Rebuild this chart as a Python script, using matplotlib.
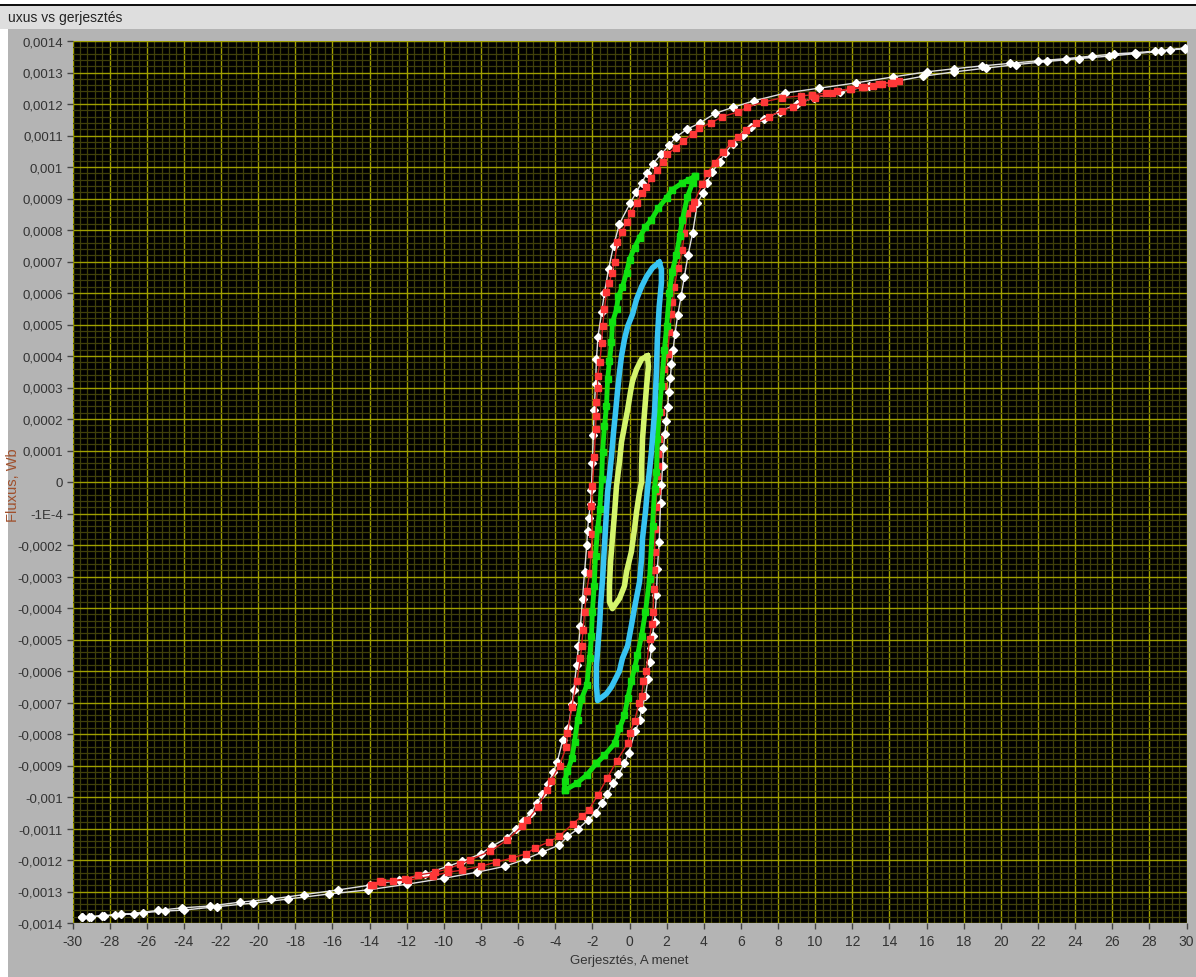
import numpy as np
import matplotlib
matplotlib.use('Agg')
import matplotlib.pyplot as plt
from matplotlib.patches import Rectangle
from matplotlib.ticker import MultipleLocator
from matplotlib import font_manager

# flux values are in units of 1e-4 Wb

# white loop (outer, largest excitation)
white_down_x = [29.9, 29.1, 28.3, 27.2, 26.1, 24.9, 23.5, 22.0, 20.5, 19.0,
                17.5, 16.0, 14.2, 12.2, 10.2, 8.4, 6.7, 5.6, 4.6, 3.8,
                3.1, 2.5, 2.15, 1.7, 1.25, 0.95, 0.65, 0.37, 0.05, -0.54,
                -0.86, -1.13, -1.35, -1.5, -1.7, -1.78, -1.83, -1.9, -1.95, -2.0,
                -2.05, -2.1, -2.2, -2.26, -2.3, -2.42, -2.53, -2.64, -2.75, -2.85,
                -3.0, -3.1, -3.3, -3.6, -3.9, -4.1, -4.4, -4.7, -5.0, -5.3,
                -5.76, -6.1, -6.6, -7.4, -8.0, -9.0, -9.8, -11.0, -12.4, -14.0,
                -15.7, -17.55, -19.3, -21.0, -22.6, -24.1, -25.4, -26.7, -27.7, -28.4,
                -29.1, -29.5]
white_down_y = [13.78, 13.72, 13.67, 13.63, 13.59, 13.52, 13.44, 13.37, 13.29, 13.21,
                13.12, 13.02, 12.86, 12.67, 12.5, 12.35, 12.1, 11.9, 11.7, 11.4,
                11.2, 10.95, 10.7, 10.4, 10.1, 9.8, 9.5, 9.2, 8.87, 8.2,
                7.5, 6.75, 6.0, 5.4, 4.6, 3.9, 3.1, 2.3, 1.5, 0.6,
                -0.25, -0.7, -1.14, -1.55, -2.0, -2.85, -3.7, -4.56, -5.2, -5.8,
                -6.6, -7.06, -7.8, -8.2, -8.9, -9.2, -9.6, -9.9, -10.2, -10.5,
                -10.77, -11.0, -11.3, -11.56, -11.8, -12.04, -12.2, -12.45, -12.64, -12.8,
                -12.95, -13.1, -13.24, -13.34, -13.46, -13.52, -13.6, -13.7, -13.74, -13.78,
                -13.8, -13.8]
white_up_x = [-29.5, -29.0, -28.3, -27.4, -26.2, -25.0, -24.0, -22.2, -20.3, -18.4,
              -16.2, -14.1, -12.0, -10.0, -8.24, -6.7, -5.6, -4.7, -3.8, -3.34,
              -2.75, -2.26, -1.83, -1.5, -1.2, -0.9, -0.6, -0.27, -0.05, 0.32,
              0.54, 0.65, 0.86, 1.0, 1.1, 1.18, 1.24, 1.35, 1.45, 1.5,
              1.6, 1.67, 1.72, 1.78, 1.83, 1.9, 1.97, 2.05, 2.12, 2.2,
              2.26, 2.35, 2.45, 2.6, 2.78, 2.95, 3.15, 3.4, 3.66, 3.98,
              4.15, 4.47, 4.85, 5.17, 5.55, 6.1, 6.57, 7.27, 8.08, 9.0,
              9.96, 11.36, 12.92, 14.16, 15.8, 17.5, 19.2, 20.8, 22.5, 24.2,
              25.8, 27.3, 28.6, 29.9]
white_up_y = [-13.82, -13.8, -13.77, -13.73, -13.67, -13.62, -13.59, -13.48, -13.37, -13.24,
              -13.08, -12.95, -12.77, -12.58, -12.39, -12.2, -11.97, -11.75, -11.53, -11.25,
              -11.0, -10.74, -10.5, -10.2, -9.9, -9.57, -9.28, -8.93, -8.6, -7.9,
              -7.57, -7.2, -6.78, -6.24, -5.7, -5.26, -4.88, -4.43, -3.6, -2.76,
              -1.9, -0.67, -0.1, 0.5, 1.08, 1.52, 1.93, 2.37, 2.85, 3.3,
              3.75, 4.2, 4.7, 5.3, 5.9, 6.5, 7.2, 7.9, 8.87, 9.19,
              9.5, 9.85, 10.17, 10.45, 10.74, 11.02, 11.28, 11.53, 11.75, 12.0,
              12.2, 12.39, 12.57, 12.7, 12.88, 13.02, 13.14, 13.25, 13.35, 13.44,
              13.52, 13.6, 13.68, 13.76]

# red loop
red_down_x = [14.2, 13.6, 13.1, 12.5, 11.95, 11.15, 10.6, 9.85, 9.26, 8.24,
              7.27, 6.35, 5.87, 5.0, 4.4, 3.77, 3.4, 2.9, 2.48, 2.0,
              1.78, 1.5, 1.18, 0.9, 0.7, 0.38, 0.1, -0.16, -0.38, -0.65,
              -0.8, -0.95, -1.08, -1.24, -1.35, -1.45, -1.5, -1.6, -1.72, -1.72,
              -1.78, -1.8, -1.83, -1.9, -2.0, -2.05, -2.0, -2.08, -2.15, -2.3,
              -2.42, -2.5, -2.58, -2.64, -2.85, -3.1, -3.34, -3.4, -3.77, -4.25,
              -4.47, -4.95, -5.5, -5.8, -6.6, -7.5, -8.6, -9.15, -9.8, -10.5,
              -11.4, -12.1, -12.76, -13.35, -13.8]
red_down_y = [12.67, 12.64, 12.57, 12.54, 12.48, 12.42, 12.35, 12.29, 12.26, 12.2,
              12.07, 11.9, 11.75, 11.6, 11.4, 11.24, 11.05, 10.83, 10.6, 10.4,
              10.17, 9.9, 9.66, 9.37, 9.19, 8.87, 8.55, 8.24, 7.95, 7.63,
              7.0, 6.65, 6.33, 6.02, 5.5, 4.94, 4.4, 3.8, 3.36, 3.0,
              2.53, 2.1, 1.68, 0.79, -0.13, -0.76, -1.65, -2.3, -2.88, -3.45,
              -4.12, -4.7, -5.2, -5.6, -6.33, -7.13, -7.98, -8.4, -9.0, -9.5,
              -9.79, -10.33, -10.74, -10.93, -11.37, -11.72, -12.0, -12.13, -12.29, -12.39,
              -12.48, -12.6, -12.67, -12.7, -12.78]
red_up_x = [-13.9, -13.46, -11.95, -10.6, -9.8, -9.0, -8.0, -7.2, -6.35, -5.55,
            -5.1, -4.36, -3.8, -3.07, -2.58, -2.2, -1.72, -1.2, -0.7, -0.1,
            0.0, 0.27, 0.5, 0.65, 0.75, 0.9, 1.08, 1.2, 1.28, 1.3,
            1.33, 1.35, 1.38, 1.42, 1.47, 1.5, 1.54, 1.56, 1.6, 1.72,
            1.78, 1.88, 2.05, 2.15, 2.26, 2.3, 2.42, 2.6, 2.85, 2.96,
            3.12, 3.34, 3.5, 3.93, 4.2, 4.58, 5.06, 5.49, 5.82, 6.3,
            6.84, 7.49, 8.19, 8.78, 9.3, 10.0, 10.9, 11.85, 12.65, 13.46,
            14.1, 14.5]
red_up_y = [-12.8, -12.67, -12.64, -12.51, -12.39, -12.32, -12.2, -12.07, -11.94, -11.8,
            -11.62, -11.43, -11.25, -10.86, -10.61, -10.42, -9.95, -9.4, -8.87, -8.3,
            -7.98, -7.6, -7.03, -6.8, -6.33, -6.0, -4.97, -4.5, -4.12, -3.39,
            -2.8, -2.22, -1.49, -0.8, -0.3, 0.2, 0.5, 0.9, 1.36, 2.22,
            3.04, 3.58, 4.05, 4.75, 5.32, 5.7, 6.2, 6.8, 7.38, 7.92,
            8.55, 8.7, 8.9, 9.47, 9.82, 10.14, 10.48, 10.77, 10.96, 11.18,
            11.4, 11.6, 11.78, 11.9, 12.07, 12.2, 12.35, 12.48, 12.54, 12.64,
            12.67, 12.72]

# green loop
green_down_x = [3.55, 3.2, 2.85, 2.3, 2.0, 1.56, 1.18, 0.86, 0.54, 0.27,
                0.0, -0.16, -0.38, -0.6, -0.7, -0.92, -0.97, -1.08, -1.18, -1.24,
                -1.35, -1.45, -1.5, -1.6, -1.72, -1.83, -1.9, -2.0, -2.05, -2.15,
                -2.3, -2.6, -2.8, -2.96, -3.1, -3.34, -3.5, -3.5]
green_down_y = [9.72, 9.6, 9.5, 9.28, 9.03, 8.7, 8.33, 8.1, 7.76, 7.44,
                7.06, 6.65, 6.2, 5.9, 5.48, 5.07, 4.43, 3.83, 3.26, 2.4,
                1.77, 0.95, 0.1, -0.86, -1.49, -2.34, -3.3, -4.12, -4.88, -5.6,
                -6.46, -6.9, -7.57, -8.24, -8.77, -9.19, -9.5, -9.79]
green_up_x = [-3.5, -2.85, -2.3, -1.78, -1.35, -0.8, -0.54, -0.27, -0.1, 0.1,
              0.27, 0.43, 0.65, 0.86, 1.08, 1.24, 1.35, 1.45, 1.5, 1.6,
              1.72, 1.88, 2.0, 2.15, 2.3, 2.53, 2.7, 2.85, 3.12, 3.4, 3.55]
green_up_y = [-9.79, -9.57, -9.3, -8.93, -8.68, -8.3, -7.82, -7.41, -6.87, -6.33,
              -5.92, -5.5, -4.88, -4.12, -3.07, -1.39, -0.22, 0.32, 1.36, 2.22,
              3.04, 4.2, 4.94, 6.0, 6.68, 7.22, 7.8, 8.33, 9.06, 9.5, 9.72]

# blue loop
blue_down_x = [1.6, 1.24, 0.92, 0.65, 0.38, 0.16, -0.1, -0.27, -0.43, -0.54,
               -0.65, -0.75, -0.86, -0.97, -1.08, -1.18, -1.24, -1.35, -1.45, -1.56,
               -1.6, -1.67, -1.78, -1.78, -1.72]
blue_down_y = [6.97, 6.8, 6.52, 6.2, 5.8, 5.32, 4.94, 4.53, 4.0, 3.48,
               2.85, 2.22, 1.58, 0.82, 0.19, -0.32, -0.95, -2.03, -3.07, -3.93,
               -4.43, -4.97, -5.83, -6.46, -6.94]
blue_up_x = [-1.72, -1.24, -0.97, -0.54, -0.38, -0.1, 0.1, 0.27, 0.54, 0.65,
             0.7, 0.86, 0.97, 1.18, 1.35, 1.45, 1.5, 1.6, 1.72, 1.72, 1.6]
blue_up_y = [-6.94, -6.72, -6.5, -6.0, -5.6, -5.2, -4.56, -4.0, -3.17, -2.44,
             -1.8, -0.95, -0.22, 0.95, 2.22, 3.48, 4.53, 5.57, 6.33, 6.75, 6.97]

# yellow-green loop (smallest)
yellow_down_x = [0.97, 0.65, 0.38, 0.16, 0.05, -0.1, -0.27, -0.43, -0.54, -0.7,
                 -0.8, -0.92, -1.02, -1.08, -1.08, -0.92]
yellow_down_y = [4.0, 3.9, 3.58, 3.2, 2.85, 2.3, 1.77, 1.27, 0.63, -0.13,
                 -0.95, -1.8, -2.53, -3.3, -3.8, -4.02]
yellow_up_x = [-0.92, -0.54, -0.27, -0.16, 0.1, 0.27, 0.38, 0.54, 0.65, 0.65,
               0.7, 0.81, 0.92, 1.02, 0.97]
yellow_up_y = [-4.02, -3.7, -3.3, -2.85, -2.22, -1.49, -0.95, -0.32, 0.0, 0.5,
               1.36, 2.22, 3.04, 3.67, 4.0]

x_ticks = list(range(-30, 31, 2))
y_tick_values = [i * 1e-4 for i in range(-14, 15)]
y_tick_labels = ['-0,0014', '-0,0013', '-0,0012', '-0,0011', '-0,001', '-0,0009',
                 '-0,0008', '-0,0007', '-0,0006', '-0,0005', '-0,0004', '-0,0003',
                 '-0,0002', '-1E-4', '0', '0,0001', '0,0002', '0,0003', '0,0004',
                 '0,0005', '0,0006', '0,0007', '0,0008', '0,0009', '0,001',
                 '0,0011', '0,0012', '0,0013', '0,0014']

installed = {f.name for f in font_manager.fontManager.ttflist}
if 'Liberation Sans Narrow' in installed:
	FONT = 'Liberation Sans Narrow'
	FS = 11
else:
	FONT = 'Liberation Sans'
	FS = 9.5


def loop(xd, yd, xu, yu):
	x = np.concatenate([xd, xu])
	y = np.concatenate([yd, yu]) * 1e-4
	return x, y


def main():
	W, H = 1196, 978
	fig = plt.figure(figsize=(W / 100, H / 100), dpi=100)
	fig.patch.set_facecolor('white')

	# LabVIEW-like panel behind the graph
	fig.patches.append(Rectangle((8 / W, 0), 1 - 8 / W, 1 - 30 / H, transform=fig.transFigure,
	                             facecolor='#b4b4b4', edgecolor='none', zorder=-10))
	fig.patches.append(Rectangle((0, 1 - 30 / H), 1, 24 / H, transform=fig.transFigure,
	                             facecolor='#dedede', edgecolor='none', zorder=-10))
	fig.patches.append(Rectangle((0, 1 - 7 / H), 1, 2 / H, transform=fig.transFigure,
	                             facecolor='#111111', edgecolor='none', zorder=-10))
	fig.text(8 / W, 1 - 18 / H, 'uxus vs gerjesztés', family=FONT, fontsize=10,
	         color='#222222', va='center', ha='left')

	ax = fig.add_axes([72.5 / W, 54 / H, 1114 / W, 882 / H])
	ax.set_facecolor('black')
	ax.set_xlim(-30, 30)
	ax.set_ylim(-0.0014, 0.0014)

	ax.set_xticks(x_ticks)
	ax.set_xticklabels([str(v) for v in x_ticks])
	ax.set_yticks(y_tick_values)
	ax.set_yticklabels(y_tick_labels)
	ax.xaxis.set_minor_locator(MultipleLocator(0.4))
	ax.yaxis.set_minor_locator(MultipleLocator(0.2e-4))
	ax.grid(True, which='major', color='#a0a000', lw=1.0)
	ax.grid(True, which='minor', color='#40400a', lw=0.9)
	ax.set_axisbelow(True)
	ax.tick_params(which='major', direction='out', length=4, width=1, color='#444444',
	               labelsize=FS, labelcolor='#333333', pad=3)
	ax.tick_params(axis='x', labelsize=FS + 0.5, pad=4)
	ax.tick_params(which='minor', length=0)
	for lab in ax.get_xticklabels() + ax.get_yticklabels():
		lab.set_family(FONT)
	for s in ax.spines.values():
		s.set_visible(False)

	x, y = loop(white_down_x, white_down_y, white_up_x, white_up_y)
	ax.plot(x, y, color='#e0e0e0', lw=1.0, marker='D', ms=4.5, mfc='white', mec='white', zorder=3)

	x, y = loop(red_down_x, red_down_y, red_up_x, red_up_y)
	ax.plot(x, y, color='#d42020', lw=1.0, marker='s', ms=4.5, mfc='#ff3838', mec='#ff3838', zorder=4)

	x, y = loop(green_down_x, green_down_y, green_up_x, green_up_y)
	ax.plot(x, y, color='#10e010', lw=3.5, marker='s', ms=4, mfc='#10e010', mec='#10e010',
	        solid_joinstyle='miter', zorder=5)

	x, y = loop(blue_down_x, blue_down_y, blue_up_x, blue_up_y)
	ax.plot(x, y, color='#38c4f2', lw=4, zorder=6)

	x, y = loop(yellow_down_x, yellow_down_y, yellow_up_x, yellow_up_y)
	ax.plot(x, y, color='#d4f46c', lw=4, zorder=7)

	ax.set_xlabel('Gerjesztés, A menet', family=FONT, fontsize=9.5, color='#333333', labelpad=4)
	fig.text(13 / W, 1 - 485 / H, 'Fluxus, Wb', family=FONT, fontsize=10.5, color='#a0502c',
	         rotation=90, va='center', ha='center')

	fig.savefig('out.png', dpi=100, facecolor=fig.get_facecolor())


main()
